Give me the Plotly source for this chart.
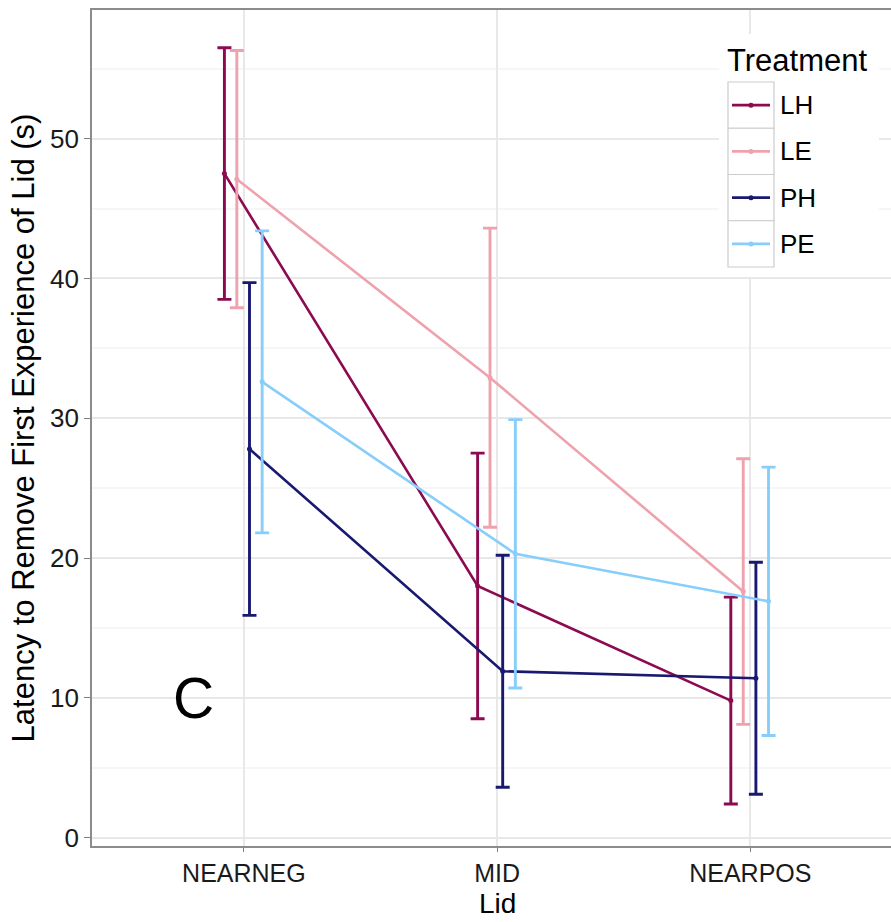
import plotly.graph_objects as go

# ---------------- data ----------------
lids = ["NEARNEG", "MID", "NEARPOS"]
treatments = ["LH", "LE", "PH", "PE"]

mean_LH = [47.5, 18.0, 9.8]
mean_LE = [47.1, 32.9, 17.6]
mean_PH = [27.8, 11.9, 11.4]
mean_PE = [32.6, 20.3, 16.9]

se_LH = [9.0, 9.5, 7.4]
se_LE = [9.2, 10.7, 9.5]
se_PH = [11.9, 8.3, 8.3]
se_PE = [10.8, 9.6, 9.6]

y_ticks = [0, 10, 20, 30, 40, 50]

means = {"LH": mean_LH, "LE": mean_LE, "PH": mean_PH, "PE": mean_PE}
ses = {"LH": se_LH, "LE": se_LE, "PH": se_PH, "PE": se_PE}

# ---------------- style ----------------
colors = {"LH": "#8B0A50", "LE": "#EEA2AD", "PH": "#191970", "PE": "#87CEFA"}
dodge = {"LH": -0.077, "LE": -0.028, "PH": 0.022, "PE": 0.072}
FONT = "Liberation Sans, Arial, sans-serif"

W, H = 891, 922
L, T, B, R = 92, 10, 76, 0
plot_w = W - L - R
plot_h = H - T - B


def px(xp):
    return (xp - L) / plot_w


def py(yp):
    return (H - B - yp) / plot_h


fig = go.Figure()

for t in treatments:
    xs = [j + dodge[t] for j in range(len(lids))]
    fig.add_trace(go.Scatter(
        x=xs, y=means[t], mode="lines+markers", name=t,
        line=dict(color=colors[t], width=2.6),
        marker=dict(color=colors[t], size=5),
        error_y=dict(type="data", array=ses[t], visible=True,
                     color=colors[t], thickness=2.9, width=7),
        showlegend=False,
    ))

# ---------------- manual legend (ggplot style) ----------------
shapes = []
annotations = []
shapes.append(dict(type="rect", xref="paper", yref="paper",
                   x0=px(719), x1=px(879), y0=py(34), y1=py(277),
                   fillcolor="white", line=dict(width=0), layer="above"))
annotations.append(dict(text="Treatment", xref="paper", yref="paper",
                        x=px(725), y=py(60), xanchor="left", yanchor="middle",
                        showarrow=False, font=dict(family=FONT, size=31, color="black")))
row_h = 46.25
top0 = 82
for i, t in enumerate(treatments):
    y0 = top0 + i * row_h
    yc = y0 + row_h / 2
    shapes.append(dict(type="rect", xref="paper", yref="paper",
                       x0=px(728), x1=px(774), y0=py(y0), y1=py(y0 + row_h),
                       fillcolor="white", line=dict(color="#CCCCCC", width=1.2),
                       layer="above"))
    shapes.append(dict(type="line", xref="paper", yref="paper",
                       x0=px(732), x1=px(770), y0=py(yc), y1=py(yc),
                       line=dict(color=colors[t], width=2.8), layer="above"))
    shapes.append(dict(type="circle", xref="paper", yref="paper",
                       x0=px(748.5), x1=px(753.5), y0=py(yc - 2.5), y1=py(yc + 2.5),
                       fillcolor=colors[t], line=dict(color=colors[t], width=0),
                       layer="above"))
    annotations.append(dict(text=t, xref="paper", yref="paper",
                            x=px(778), y=py(yc), xanchor="left", yanchor="middle",
                            showarrow=False, font=dict(family=FONT, size=26, color="black")))

# panel label
annotations.append(dict(text="C", x=-0.2, y=10, xref="x", yref="y",
                        showarrow=False, font=dict(family=FONT, size=57, color="black")))

# x-axis title placed as in the reference
annotations.append(dict(text="Lid", xref="x", yref="paper", x=1.0, y=py(920),
                        xanchor="center", yanchor="bottom", showarrow=False,
                        borderpad=0,
                        font=dict(family=FONT, size=28, color="black")))

fig.update_layout(
    width=W, height=H,
    margin=dict(l=L, r=R, t=T, b=B),
    paper_bgcolor="white", plot_bgcolor="white",
    font=dict(family=FONT, size=25, color="black"),
    shapes=shapes, annotations=annotations,
    showlegend=False,
)

fig.update_xaxes(
    range=[-0.6, (W - R - L) / 253.2 - 0.6],
    tickvals=list(range(len(lids))), ticktext=lids,
    showgrid=True, gridcolor="#E8E8E8", gridwidth=1.5,
    zeroline=False,
    showline=True, linecolor="#8C8C8C", linewidth=1.6, mirror=True,
    ticks="outside", ticklen=4, tickwidth=1.2, tickcolor="#7F7F7F",
    tickfont=dict(family=FONT, size=25, color="#1a1a1a"),
)

fig.update_yaxes(
    range=[-0.6, 59.2],
    tickvals=y_ticks,
    showgrid=True, gridcolor="#E8E8E8", gridwidth=1.5,
    minor=dict(tickvals=[5, 15, 25, 35, 45, 55], showgrid=True,
               gridcolor="#F6F6F6", gridwidth=1.5),
    zeroline=False,
    showline=True, linecolor="#8C8C8C", linewidth=1.6, mirror=False,
    ticks="outside", ticklen=6, tickwidth=1.2, tickcolor="#7F7F7F",
    tickfont=dict(family=FONT, size=26, color="#1a1a1a"),
    title=dict(text="Latency to Remove First Experience of Lid (s)",
               font=dict(family=FONT, size=31, color="black"), standoff=6),
)

fig.write_html("out.html")
